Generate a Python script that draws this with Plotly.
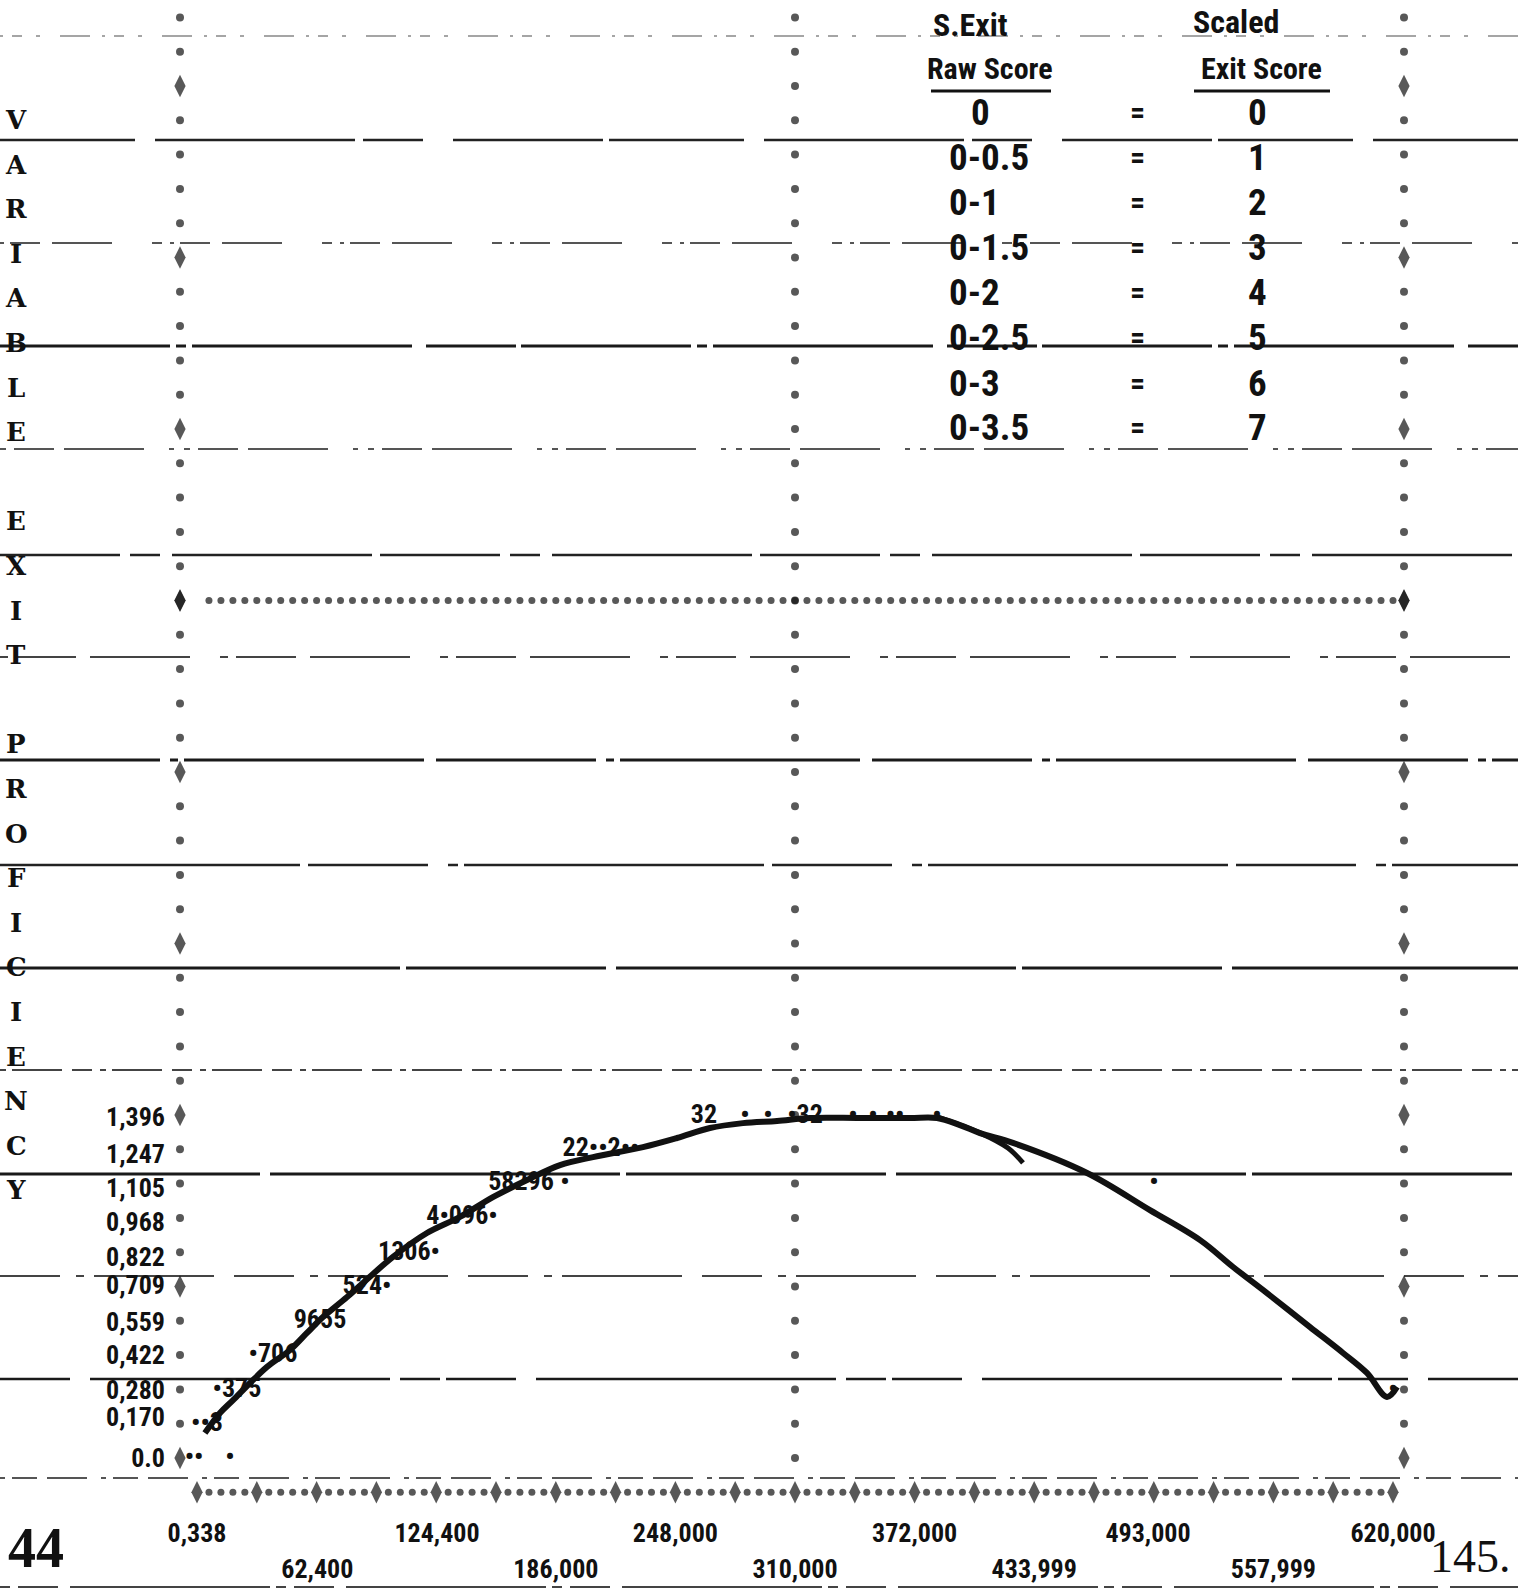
import plotly.graph_objects as go

W, H = 1518, 1590

# ---------------- data ----------------
x_tick_vals_a = [0.338, 124400, 248000, 372000, 493000, 620000]
x_tick_text_a = ["0,338", "124,400", "248,000", "372,000", "493,000", "620,000"]
x_tick_vals_b = [62400, 186000, 310000, 433999, 557999]
x_tick_text_b = ["62,400", "186,000", "310,000", "433,999", "557,999"]

y_tick_vals = [0.0, 0.170, 0.280, 0.422, 0.559, 0.709, 0.822, 0.968, 1.105, 1.247, 1.396]
y_tick_text = ["0.0", "0,170", "0,280", "0,422", "0,559", "0,709",
               "0,822", "0,968", "1,105", "1,247", "1,396"]

# hand-drawn fitted curve
curve_x = [4100, 11900, 18700, 27500, 36300, 48200, 57000, 65300, 77800, 101600,
           119200, 136300, 153400, 171100, 188200, 205300, 231200, 248800, 265900,
           283000, 300700, 317800, 343700, 369600, 383600, 395500, 405900, 423000,
           461400, 494000, 520000, 537100, 554700, 577000, 594100, 606500, 616900,
           622100]
curve_y = [0.102, 0.184, 0.237, 0.307, 0.373, 0.442, 0.512, 0.577, 0.659, 0.823,
           0.921, 0.987, 1.068, 1.138, 1.199, 1.232, 1.273, 1.310, 1.351,
           1.371, 1.380, 1.392, 1.392, 1.392, 1.392, 1.363, 1.330, 1.290,
           1.167, 1.015, 0.892, 0.782, 0.675, 0.536, 0.430, 0.348, 0.250,
           0.291]

# second short pen stroke near the peak
stroke_x = [384100, 405900, 420400, 428200]
stroke_y = [1.396, 1.331, 1.269, 1.208]

# printed plot symbols / counts
point_x = [-1555, 17107, 5184, 20736, 39398, 63763, 88128, 109901, 137376,
           167962, 190771, 496109, 209434, 262829, 284083, 296006, 315187,
           340070, 350438, 361843, 383616, 620006]
point_y = [0.0, 0.0, 0.139, 0.278, 0.418, 0.557, 0.700, 0.839, 0.983,
           1.122, 1.122, 1.122, 1.261, 1.400, 1.400, 1.400, 1.400,
           1.400, 1.400, 1.400, 1.400, 0.278]
point_text = ["••", "•", "••3", "•375", "•706", "9655", "524•", "1306•", "4•096•",
              "58296", "•", "•", "22••2••", "32", "•", "•", "•32",
              "•", "•", "••", "•", "•"]

raw_scores = ["0", "0-0.5", "0-1", "0-1.5", "0-2", "0-2.5", "0-3", "0-3.5"]
scaled_scores = ["0", "1", "2", "3", "4", "5", "6", "7"]
side_title = "VARIABLE EXIT PROFICIENCY"

# ---------------- geometry of the print ----------------
X_PER_PX = 620000 / 1196.0
Y_PER_PX = 1.396 / 341.0


def xv(px):
    return (px - 197) * X_PER_PX


def yv(py):
    return (1458 - py) * Y_PER_PX


ROW = 34.3 * Y_PER_PX
STEP = 6200
X_LEFT, X_RIGHT, X_MID = xv(180), xv(1404), 310000

PRINT_FONT = "Roboto Condensed, DejaVu Sans Condensed, Liberation Sans Narrow, Liberation Mono, monospace"
INK = "#111111"

fig = go.Figure()


def axis_marks(xs, ys, plus_flags, dot_size=8, plus_size=16):
    fig.add_trace(go.Scatter(
        x=xs, y=ys, mode="markers", hoverinfo="skip", cliponaxis=False,
        marker=dict(color=INK, line=dict(width=0),
                    symbol=["diamond-tall" if p else "circle" for p in plus_flags],
                    size=[plus_size if p else dot_size for p in plus_flags])))


rows = list(range(0, 43))
for xa in (X_LEFT, X_RIGHT):
    axis_marks([xa] * len(rows), [k * ROW for k in rows], [k % 5 == 0 for k in rows])
axis_marks([X_MID] * len(rows), [k * ROW for k in rows], [False] * len(rows), dot_size=8)
cols = list(range(0, 101))
axis_marks([j * STEP for j in cols], [-ROW] * len(cols), [j % 5 == 0 for j in cols], dot_size=7)
hx = [X_LEFT] + [j * STEP for j in cols[1:]] + [X_RIGHT]
axis_marks(hx, [25 * ROW] * len(hx), [i in (0, len(hx) - 1) for i in range(len(hx))], dot_size=7)

fig.add_trace(go.Scatter(x=curve_x, y=curve_y, mode="lines", hoverinfo="skip",
                         line=dict(color=INK, width=6, shape="spline", smoothing=1.0),
                         cliponaxis=False))
fig.add_trace(go.Scatter(x=stroke_x, y=stroke_y, mode="lines", hoverinfo="skip",
                         line=dict(color=INK, width=5, shape="spline"), cliponaxis=False))

fig.add_trace(go.Scatter(x=point_x, y=point_y, mode="text", text=point_text,
                         xaxis="x2", hoverinfo="skip", cliponaxis=False,
                         textposition="middle center",
                         textfont=dict(family=PRINT_FONT, size=26, color=INK, weight="bold")))

RULES = [
    (36, "#888888", 1.5, "3px,9px,10px,14px,4px,20px,30px,12px"),
    (140, "#222222", 2.5, "135px,20px,200px,8px,60px,30px,150px,6px"),
    (243, "#555555", 2, "4px,6px,30px,12px,60px,40px,10px,8px"),
    (346, "#1a1a1a", 3, "170px,6px,10px,6px,220px,14px,90px,5px"),
    (449, "#555555", 2, "6px,8px,40px,10px,80px,25px,5px,10px"),
    (555, "#222222", 2.5, "120px,10px,30px,12px,200px,8px"),
    (657, "#444444", 2, "8px,8px,60px,14px,100px,30px"),
    (760, "#1a1a1a", 3, "160px,10px,8px,6px,240px,12px"),
    (865, "#222222", 2.5, "300px,8px,120px,20px,10px,6px"),
    (968, "#1a1a1a", 3, "400px,6px,200px,10px"),
    (1070, "#444444", 2, "6px,6px,50px,10px,20px,8px"),
    (1174, "#1a1a1a", 3, "260px,10px,350px,6px"),
    (1276, "#444444", 2, "60px,16px,8px,10px,120px,20px"),
    (1379, "#1a1a1a", 2.5, "70px,20px,300px,10px,40px,6px"),
    (1478, "#555555", 2, "5px,7px,25px,10px,40px,14px"),
    (1587, "#444444", 2, "10px,8px,40px,12px,200px,6px"),
]
for py, col, wd, dash in RULES:
    fig.add_shape(type="line", xref="paper", yref="paper", x0=0, x1=1,
                  y0=1 - py / H, y1=1 - py / H, layer="below",
                  line=dict(color=col, width=wd, dash=dash))


def px_note(text, px, py, size, family=PRINT_FONT, xanchor="center", bold=True):
    fig.add_annotation(text=text, x=px / W, y=1 - py / H, xref="paper", yref="paper",
                       showarrow=False, xanchor=xanchor, yanchor="middle",
                       font=dict(family=family, size=size, color=INK,
                                 weight="bold" if bold else "normal"))


px_note("S.Exit", 970, 25, 32)
px_note("Raw Score", 990, 69, 30)
px_note("Scaled", 1236, 22, 32)
px_note("Exit Score", 1261, 69, 30)
for x0, x1 in ((931, 1051), (1194, 1330)):
    fig.add_shape(type="line", xref="paper", yref="paper", x0=x0 / W, x1=x1 / W,
                  y0=1 - 91 / H, y1=1 - 91 / H, line=dict(color=INK, width=3))
for i, (r, s) in enumerate(zip(raw_scores, scaled_scores)):
    py = 113 + 45 * i
    if i == 0:
        px_note(r, 980, py, 37)
    else:
        px_note(r, 947, py, 37, xanchor="left")
    px_note("=", 1137, py, 30)
    px_note(s, 1257, py, 37)

for i, ch in enumerate(side_title):
    if ch != " ":
        px_note(ch, 16, 120 + 44.6 * i, 26, family="DejaVu Serif")

px_note("44", 6, 1548, 56, family="Liberation Serif", xanchor="left", bold=True)
px_note("145.", 1470, 1556, 46, family="Liberation Serif", bold=False)

tick_font = dict(family=PRINT_FONT, size=26, color=INK, weight="bold")
fig.update_layout(
    width=W, height=H, margin=dict(l=0, r=0, t=0, b=0, autoexpand=False),
    paper_bgcolor="white", plot_bgcolor="rgba(0,0,0,0)", showlegend=False,
    xaxis=dict(domain=[180 / W, 1404 / W], range=[X_LEFT, X_RIGHT], showgrid=False,
               zeroline=False, showline=False, ticks="", tickvals=x_tick_vals_a,
               ticktext=x_tick_text_a, tickfont=tick_font, ticklabelstandoff=22,
               automargin=False),
    xaxis2=dict(overlaying="x", matches="x", anchor="y", side="bottom", showgrid=False,
                zeroline=False, showline=False, ticks="", tickvals=x_tick_vals_b,
                ticktext=x_tick_text_b, tickfont=tick_font, ticklabelstandoff=58,
                automargin=False),
    yaxis=dict(domain=[(H - 1493) / H, 1], range=[yv(1493), yv(0)], showgrid=False,
               zeroline=False, showline=False, ticks="", tickvals=y_tick_vals,
               ticktext=y_tick_text, tickfont=tick_font, ticklabelstandoff=14,
               automargin=False),
)

fig.write_html("out.html", config={"displayModeBar": False},
               post_script="document.body.style.margin='0';")
